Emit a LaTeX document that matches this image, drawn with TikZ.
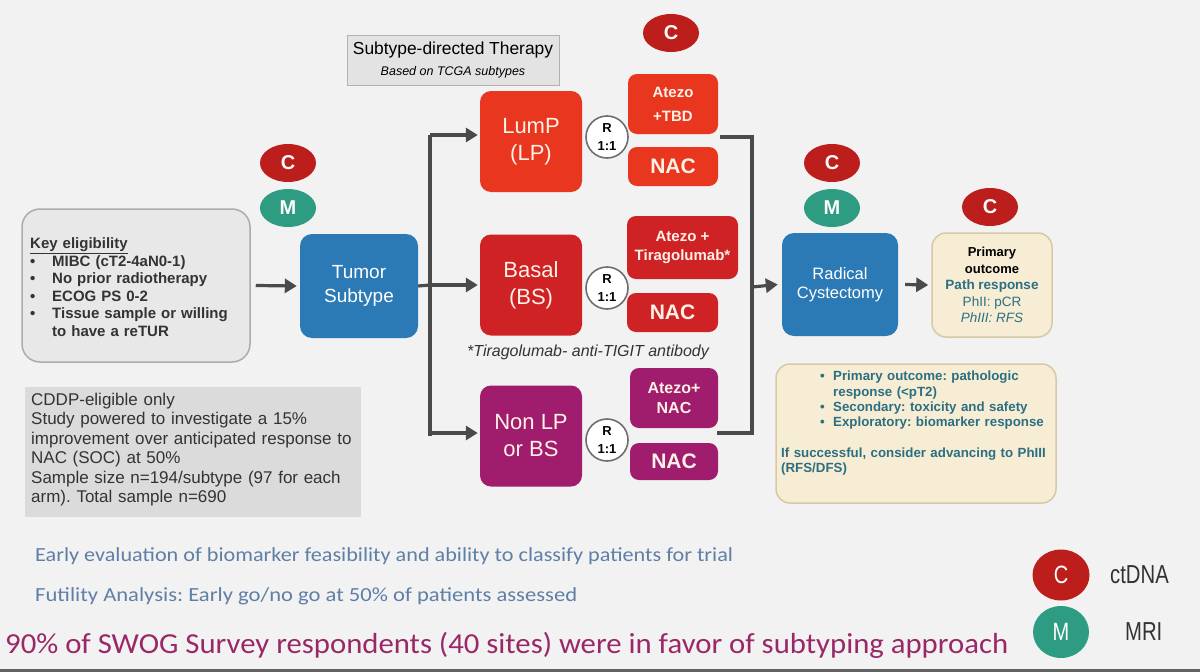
\documentclass[tikz,border=0pt]{standalone}
\usepackage{fontspec}
\setmainfont{Liberation Sans}
\newfontfamily\calib{Carlito}
\usetikzlibrary{arrows.meta,shapes.geometric}
\frenchspacing
\definecolor{bg}{HTML}{F2F2F2}
\definecolor{lpred}{HTML}{E8361F}
\definecolor{bsred}{HTML}{CF2224}
\definecolor{nonlp}{HTML}{A01C6C}
\definecolor{tblue}{HTML}{2B79B5}
\definecolor{cred}{HTML}{BC1E1C}
\definecolor{mgreen}{HTML}{2E9C82}
\definecolor{conncol}{HTML}{4A4A4A}
\definecolor{cream}{HTML}{F6EDD4}
\definecolor{creamline}{HTML}{D8C9A6}
\definecolor{teal}{HTML}{2C6F82}
\definecolor{txtgray}{HTML}{333333}
\definecolor{bluegray}{HTML}{5F7FA6}
\definecolor{plum}{HTML}{9A2868}
\definecolor{boxtext}{HTML}{FFF1E6}
\tikzset{
  box/.style={rounded corners=11pt, inner sep=0pt, align=center, text=boxtext},
  subbox/.style={box, minimum width=102, minimum height=101, font=\fontsize{22}{27}\selectfont},
  armbox/.style={box, rounded corners=9pt, font=\bfseries\fontsize{15}{24}\selectfont},
  nacbox/.style={box, rounded corners=9pt, font=\bfseries\fontsize{21}{24}\selectfont},
  bluebox/.style={box, fill=tblue, text=white, rounded corners=12pt},
  marker/.style={ellipse, inner sep=0pt, minimum width=56, minimum height=38, text=white, font=\bfseries\fontsize{20}{20}\selectfont},
  rnode/.style={circle, draw=conncol!80, line width=1.6pt, fill=white, minimum size=42, inner sep=0pt, align=center, text=black, font=\bfseries\fontsize{13}{18}\selectfont},
  conn/.style={draw=conncol, line width=3.2pt},
  arr/.style={conn, -{Triangle[length=12pt,width=14pt]}},
  creambox/.style={fill=cream, draw=creamline, line width=1.5pt, rounded corners=14pt, inner sep=0pt}
}
\begin{document}
\begin{tikzpicture}[x=1pt,y=-1pt]
\fill[bg] (0,0) rectangle (1200,672);
\useasboundingbox (0,0) rectangle (1200,672);
\fill[black!62] (0,669) rectangle (1200,672);

% Key eligibility
\node[fill=gray!18, draw=gray!65, line width=1.5pt, rounded corners=18pt, minimum width=228, minimum height=153, inner sep=0pt] (key) at (136,285.5) {};
\node[text width=215, align=left, inner sep=0pt, text=txtgray, font=\bfseries\fontsize{15}{17.5}\selectfont, anchor=west] (keytxt) at (30,287)
{\underline{Key eligibility}\\
\makebox[22pt][l]{\textbullet}MIBC (cT2-4aN0-1)\\
\makebox[22pt][l]{\textbullet}No prior radiotherapy\\
\makebox[22pt][l]{\textbullet}ECOG PS 0-2\\
\makebox[22pt][l]{\textbullet}Tissue sample or willing\\
\hspace*{22pt}to have a reTUR};

% Tumor subtype
\node[bluebox, minimum width=118, minimum height=104, font=\fontsize{19}{24}\selectfont] (tumor) at (359,286) {Tumor\\Subtype};
\node[marker, fill=cred] (c1) at (288,163) {C};
\node[marker, fill=mgreen] (m1) at (288,208) {M};

% Subtype-directed therapy label
\node[fill=gray!22, draw=gray!60, line width=1pt, minimum width=212, minimum height=50, inner sep=0pt, align=center] (sdt) at (453,60)
{\fontsize{17.4}{22}\selectfont Subtype-directed Therapy\\[8pt]\fontsize{12.5}{13}\selectfont\itshape Based on TCGA subtypes};

% Subtype boxes
\node[subbox, fill=lpred] (lump) at (531,141.5) {LumP\\(LP)};
\node[subbox, fill=bsred] (basal) at (531,285) {Basal\\(BS)};
\node[subbox, fill=nonlp] (nonlpb) at (531,436) {Non LP\\or BS};

% R nodes
\node[rnode] (r1) at (607,137) {R\\1:1};
\node[rnode] (r2) at (607,288) {R\\1:1};
\node[rnode] (r3) at (607,440) {R\\1:1};

% Arms
\node[armbox, fill=lpred, minimum width=90, minimum height=60] (a1) at (673,104) {Atezo\\+TBD};
\node[nacbox, fill=lpred, minimum width=90, minimum height=39] (n1) at (673,166.5) {NAC};
\node[marker, fill=cred] (c2) at (671,33) {C};
\node[armbox, fill=bsred, minimum width=111, minimum height=63, font=\bfseries\fontsize{15}{19}\selectfont] (a2) at (682.5,247.5) {Atezo +\\Tiragolumab*};
\node[nacbox, fill=bsred, minimum width=91, minimum height=39] (n2) at (672.5,312.5) {NAC};
\node[armbox, fill=nonlp, minimum width=88, minimum height=60, font=\bfseries\fontsize{16}{20}\selectfont] (a3) at (674,398) {Atezo+\\NAC};
\node[nacbox, fill=nonlp, minimum width=88, minimum height=37] (n3) at (674,461.5) {NAC};

\node[font=\itshape\fontsize{16}{18}\selectfont, text=txtgray, inner sep=0pt] (foot) at (588,352) {*Tiragolumab- anti-TIGIT antibody};

% Connectors left
\coordinate (bx) at (430,285);
\draw[arr] ([xshift=5pt]key.east) -- ([xshift=-3pt]tumor.west);
\draw[conn] (tumor.east) -- (bx);
\draw[conn] ([yshift=6.5pt]bx |- lump.west) -- (bx |- nonlpb.west);
\draw[arr] ([yshift=6.5pt]bx |- lump.west) -- ([yshift=6.5pt,xshift=-2pt]lump.west);
\draw[arr] (bx) -- ([xshift=-2pt]basal.west);
\draw[arr] ([yshift=3pt]bx |- nonlpb.west) -- ([yshift=3pt,xshift=-2pt]nonlpb.west);

% Bracket right
\coordinate (t1) at (720,137);
\coordinate (t2) at (717,433);
\coordinate (bk) at (752,287);
\draw[conn] (t1) -| (bk) |- (t2);

% Radical cystectomy
\node[bluebox, minimum width=116, minimum height=103, font=\fontsize{16.5}{19.5}\selectfont] (rc) at (840,284.5) {Radical\\Cystectomy};
\draw[arr] (bk) -- ([xshift=-4pt]rc.west);
\node[marker, fill=cred] (c3) at (832,163) {C};
\node[marker, fill=mgreen] (m3) at (832,208) {M};

% Primary outcome
\node[creambox, minimum width=120, minimum height=104, align=center, font=\bfseries\fontsize{13}{16.5}\selectfont] (po) at (992,285)
{Primary\\outcome\\\textcolor{teal}{\fontsize{13.5}{16.5}\selectfont Path response}\\\textcolor{teal}{\mdseries\fontsize{13.5}{16.5}\selectfont PhII: pCR}\\\textcolor{teal}{\mdseries\itshape\fontsize{13.5}{16.5}\selectfont PhIII: RFS}};
\node[marker, fill=cred] (c4) at (990,207) {C};
\draw[arr] ([xshift=7pt]rc.east) -- ([xshift=-3pt]po.west);

% Notes box
\node[creambox, minimum width=280, minimum height=139] (notes) at (916,433.5) {};
\node[anchor=north west, text width=278, align=left, inner sep=0pt, text=teal, font=\bfseries\fontsize{13.3}{15.3}\selectfont] (notestxt) at (781,371)
{\hspace*{39pt}\makebox[13pt][l]{\textbullet}Primary outcome: pathologic\\
\hspace*{52pt}response (<pT2)\\
\hspace*{39pt}\makebox[13pt][l]{\textbullet}Secondary: toxicity and safety\\
\hspace*{39pt}\makebox[13pt][l]{\textbullet}Exploratory: biomarker response\\[15pt]
If successful, consider advancing to PhIII\\
(RFS/DFS)};

% CDDP box
\node[fill=gray!28, minimum width=336, minimum height=130, inner sep=0pt] (cddp) at (193,452) {};
\node[anchor=north west, text width=334, align=left, inner sep=0pt, text=txtgray, font=\fontsize{17}{19.4}\selectfont] (cddptxt) at (31,393)
{CDDP-eligible only\\
Study powered to investigate a 15\%\\
improvement over anticipated response to\\
NAC (SOC) at 50\%\\
Sample size n=194/subtype (97 for each\\
arm). Total sample n=690};

% Bottom texts
\node[anchor=west, inner sep=0pt, text=bluegray, font=\calib\fontsize{20}{22}\selectfont] (early) at (35,556) {\scalebox{1.11}[1]{Early evaluation of biomarker feasibility and ability to classify patients for trial}};
\node[anchor=west, inner sep=0pt, text=bluegray, font=\calib\fontsize{20}{22}\selectfont] (fut) at (35,596) {\scalebox{1.13}[1]{Futility Analysis: Early go/no go at 50\% of patients assessed}};
\node[anchor=west, inner sep=0pt, text=plum, font=\calib\fontsize{29}{32}\selectfont] (swog) at (5,645) {\scalebox{1.06}[1]{90\% of SWOG Survey respondents (40 sites) were in favor of subtyping approach}};

% Legend
\node[ellipse, fill=cred, minimum width=57, minimum height=51, inner sep=0pt, text=white, font=\fontsize{25}{25}\selectfont] (lc) at (1061,575) {\scalebox{0.8}[1]{C}};
\node[ellipse, fill=mgreen, minimum width=56, minimum height=52, inner sep=0pt, text=white, font=\fontsize{25}{25}\selectfont] (lm) at (1061,632) {\scalebox{0.8}[1]{M}};
\node[anchor=west, inner sep=0pt, text=txtgray, font=\fontsize{26}{26}\selectfont] (lct) at (1110,575) {\scalebox{0.78}[1]{ctDNA}};
\node[anchor=west, inner sep=0pt, text=txtgray, font=\fontsize{26}{26}\selectfont] (lmt) at (1125,632) {\scalebox{0.78}[1]{MRI}};
\end{tikzpicture}
\end{document}
